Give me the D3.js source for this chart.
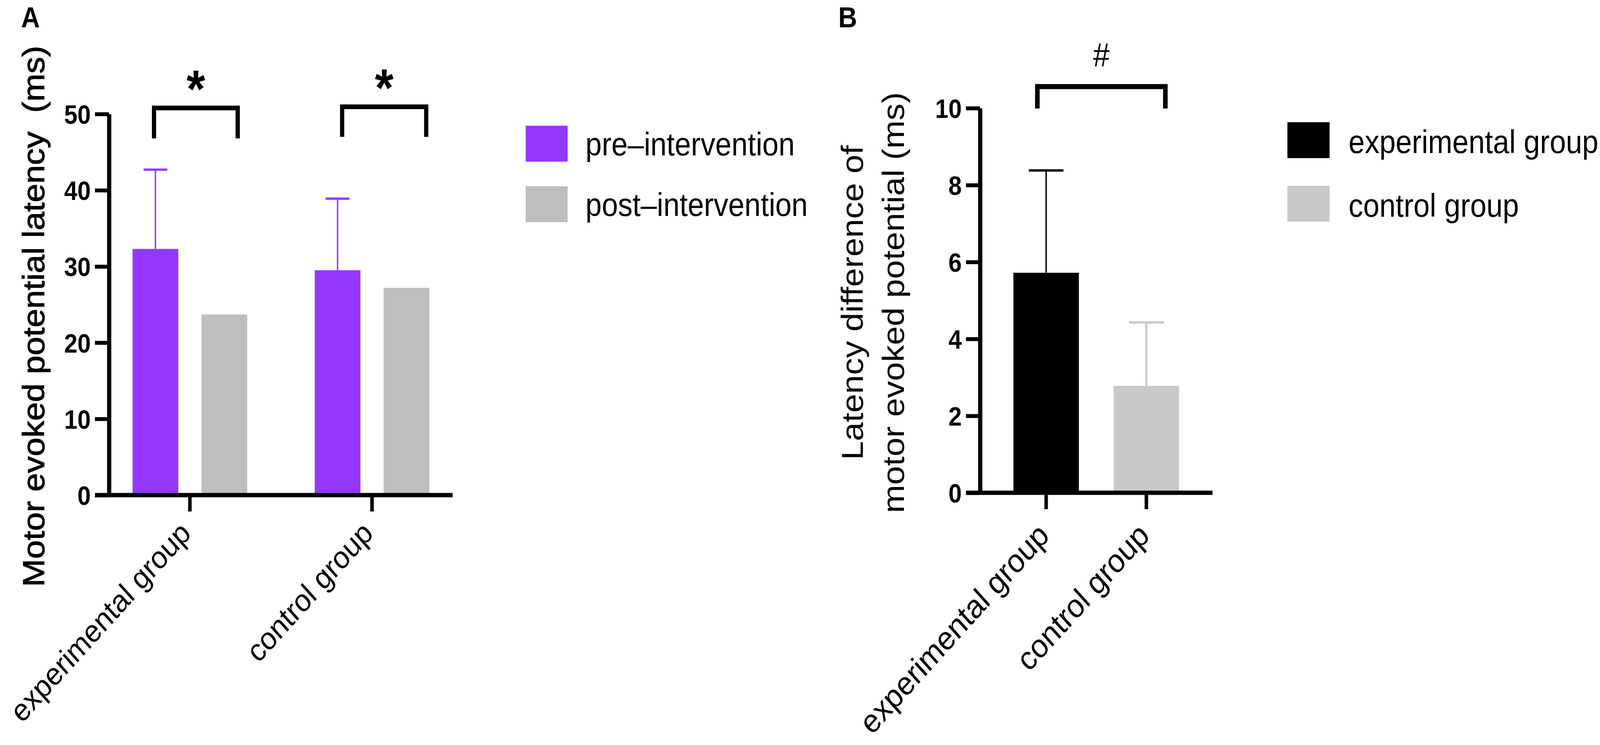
<!DOCTYPE html>
<html><head><meta charset="utf-8">
<script src="https://cdn.jsdelivr.net/npm/d3@7"></script>
<style>
html,body{margin:0;padding:0;background:#fff;overflow:hidden}
svg{display:block}
text{font-family:"Liberation Sans",Arial,Helvetica,sans-serif}
</style>
</head><body>
<svg id="c" xmlns="http://www.w3.org/2000/svg"></svg>
<script>
// ---------- DATA ----------
const groupsA = ["experimental group", "control group"];
const seriesA = ["pre\u2013intervention", "post\u2013intervention"];
const preMeanA = [32.3, 29.5];
const preSdA = [10.4, 9.4];
const postMeanA = [23.7, 27.2];
const ticksA = [0, 10, 20, 30, 40, 50];
const yTitleA = "Motor evoked potential latency\u00A0\u00A0(ms)";

const groupsB = ["experimental group", "control group"];
const meanB = [5.72, 2.78];
const sdB = [2.66, 1.65];
const ticksB = [0, 2, 4, 6, 8, 10];
const yTitleB = ["Latency difference of", "motor evoked potential (ms)"];

const sigA = [
  {group: "experimental group", top: 50.8, bottom: 46.8, label: "*"},
  {group: "control group", top: 50.95, bottom: 47.0, label: "*"}
];
const sigB = {top: 10.56, bottom: 9.99, label: "#"};

// ---------- STYLE ----------
const colA = {"pre\u2013intervention": "#9437FF", "post\u2013intervention": "#BEBEBE"};
const colB = ["#000000", "#C8C8C8"];

const W = 4550, H = 1908;
const vw = window.innerWidth || W, vh = window.innerHeight || H;
const svg = d3.select("#c")
  .attr("width", vw).attr("height", vh)
  .attr("viewBox", `0 0 ${W} ${H}`)
  .attr("preserveAspectRatio", "none");
svg.append("rect").attr("width", W).attr("height", H).attr("fill", "#fff");

function styleAxis(g) {
  g.attr("font-size", null).attr("font-family", null);
  g.select(".domain").attr("stroke", "#000").attr("stroke-width", 12);
  g.selectAll(".tick line").attr("stroke", "#000").attr("stroke-width", 10);
  g.selectAll(".tick text").attr("fill", "#000").attr("font-size", 68).attr("font-weight", "bold").attr("dy", "0.36em");
}

// ================= PANEL A =================
const yA = d3.scaleLinear().domain([0, 50]).range([1268, 292]);
const xA = d3.scaleBand().domain(groupsA).range([281, 1317]);
const xA1 = d3.scaleBand().domain(seriesA).range([-163, 163]).paddingInner(0.337);
const axAx = 310;
const cA = (g, s) => xA(g) + xA.bandwidth() / 2 + xA1(s) + xA1.bandwidth() / 2;

svg.append("text").attr("x", 60).attr("y", 70).attr("font-size", 74).attr("font-weight", "bold").text("A");

// bars
const barsA = [];
groupsA.forEach((g, i) => {
  barsA.push({g, s: seriesA[0], v: preMeanA[i], sd: preSdA[i]});
  barsA.push({g, s: seriesA[1], v: postMeanA[i], sd: null});
});
svg.append("g").selectAll("rect").data(barsA).join("rect")
  .attr("x", d => cA(d.g, d.s) - xA1.bandwidth() / 2)
  .attr("width", xA1.bandwidth())
  .attr("y", d => yA(d.v))
  .attr("height", d => yA(0) - yA(d.v))
  .attr("fill", d => colA[d.s]);

// error bars (upper)
const errA = svg.append("g").attr("stroke", colA[seriesA[0]]).attr("stroke-width", 4);
barsA.filter(d => d.sd != null).forEach(d => {
  const cx = cA(d.g, d.s), cw = xA1.bandwidth() * 0.52;
  errA.append("line").attr("x1", cx).attr("x2", cx).attr("y1", yA(d.v)).attr("y2", yA(d.v + d.sd));
  errA.append("line").attr("x1", cx - cw / 2).attr("x2", cx + cw / 2).attr("y1", yA(d.v + d.sd)).attr("y2", yA(d.v + d.sd)).attr("stroke-width", 6);
});

// y axis
svg.append("g").attr("transform", `translate(${axAx},0)`)
  .call(d3.axisLeft(yA).tickValues(ticksA).tickSize(40).tickSizeOuter(0).tickPadding(12))
  .call(styleAxis);

// x axis
const gxA = svg.append("g").attr("transform", `translate(0,${yA(0)})`)
  .call(d3.axisBottom(xA).tickSize(42).tickSizeOuter(0).tickFormat(""));
gxA.select(".domain").remove();
gxA.selectAll(".tick line").attr("stroke", "#000").attr("stroke-width", 10);
gxA.selectAll(".tick text").remove();
svg.append("line").attr("x1", axAx - 40).attr("x2", 1287).attr("y1", yA(0)).attr("y2", yA(0))
  .attr("stroke", "#000").attr("stroke-width", 11);

// category labels
groupsA.forEach(g => {
  const x = xA(g) + xA.bandwidth() / 2;
  svg.append("text").attr("transform", `translate(${x + 7},${yA(0) + 102}) rotate(-45)`)
    .attr("text-anchor", "end").attr("font-size", 80).text(g);
});

// y title
svg.append("text").attr("transform", `translate(125,810) rotate(-90)`)
  .attr("text-anchor", "middle").attr("font-size", 86)
  .attr("stroke", "#000").attr("stroke-width", 1.5)
  .style("white-space", "pre").text(yTitleA);

// significance brackets
const bdx = [[-4, 38], [13, 56]];
sigA.forEach((b, i) => {
  const x1 = cA(b.group, seriesA[0]) + bdx[i][0];
  const x2 = cA(b.group, seriesA[1]) + bdx[i][1];
  svg.append("path")
    .attr("d", `M${x1},${yA(b.bottom)}V${yA(b.top)}H${x2}V${yA(b.bottom)}`)
    .attr("fill", "none").attr("stroke", "#000").attr("stroke-width", 12).attr("stroke-linejoin", "miter");
  svg.append("text").attr("x", (x1 + x2) / 2).attr("y", yA(b.top) - 2)
    .attr("text-anchor", "middle").attr("font-size", 136).attr("font-weight", "bold").text(b.label);
});

// legend A
seriesA.forEach((s, i) => {
  const y0 = 322 + i * 155;
  svg.append("rect").attr("x", 1495).attr("y", y0).attr("width", 119).attr("height", 92).attr("fill", colA[s]);
  svg.append("text").attr("x", 1665).attr("y", y0 + 76).attr("font-size", 83).text(s);
});

// ================= PANEL B =================
const yB = d3.scaleLinear().domain([0, 10]).range([1262, 277]);
const xB = d3.scaleBand().domain(groupsB).range([2832.5, 3402.5]).paddingInner(0.347).paddingOuter(0.1735);
const axBx = 2787;
const cB = g => xB(g) + xB.bandwidth() / 2;

svg.append("text").attr("x", 2384).attr("y", 70).attr("font-size", 74).attr("font-weight", "bold").text("B");

const barsB = groupsB.map((g, i) => ({g, v: meanB[i], sd: sdB[i], c: colB[i]}));
svg.append("g").selectAll("rect").data(barsB).join("rect")
  .attr("x", d => xB(d.g)).attr("width", xB.bandwidth())
  .attr("y", d => yB(d.v)).attr("height", d => yB(0) - yB(d.v))
  .attr("fill", d => d.c);

barsB.forEach((d, i) => {
  const cx = cB(d.g), cw = xB.bandwidth() * 0.53;
  const sw = i === 0 ? 4 : 6;
  svg.append("line").attr("x1", cx).attr("x2", cx).attr("y1", yB(d.v)).attr("y2", yB(d.v + d.sd))
    .attr("stroke", d.c).attr("stroke-width", sw);
  svg.append("line").attr("x1", cx - cw / 2).attr("x2", cx + cw / 2).attr("y1", yB(d.v + d.sd)).attr("y2", yB(d.v + d.sd))
    .attr("stroke", d.c).attr("stroke-width", 6);
});

svg.append("g").attr("transform", `translate(${axBx},0)`)
  .call(d3.axisLeft(yB).tickValues(ticksB).tickSize(40).tickSizeOuter(0).tickPadding(12))
  .call(styleAxis);

const gxB = svg.append("g").attr("transform", `translate(0,${yB(0)})`)
  .call(d3.axisBottom(xB).tickSize(42).tickSizeOuter(0).tickFormat(""));
gxB.select(".domain").remove();
gxB.selectAll(".tick line").attr("stroke", "#000").attr("stroke-width", 10);
gxB.selectAll(".tick text").remove();
svg.append("line").attr("x1", axBx - 40).attr("x2", 3448).attr("y1", yB(0)).attr("y2", yB(0))
  .attr("stroke", "#000").attr("stroke-width", 11);

groupsB.forEach(g => {
  const x = cB(g);
  svg.append("text").attr("transform", `translate(${x + 13},${yB(0) + 114}) rotate(-45)`)
    .attr("text-anchor", "end").attr("font-size", 84).text(g);
});

yTitleB.forEach((t, i) => {
  svg.append("text").attr("transform", `translate(${2454 + i * 117},775) rotate(-90)`)
    .attr("text-anchor", "middle").attr("font-size", 87).text(t);
});

{
  const x1 = cB(groupsB[0]) - 25, x2 = cB(groupsB[1]) + 54;
  svg.append("path")
    .attr("d", `M${x1},${yB(sigB.bottom)}V${yB(sigB.top)}H${x2}V${yB(sigB.bottom)}`)
    .attr("fill", "none").attr("stroke", "#000").attr("stroke-width", 13);
  svg.append("text").attr("x", (x1 + x2) / 2).attr("y", 170).attr("text-anchor", "middle")
    .attr("font-size", 85).text(sigB.label);
}

groupsB.forEach((g, i) => {
  const y0 = 313 + i * 163;
  svg.append("rect").attr("x", 3661).attr("y", y0).attr("width", 120).attr("height", 92).attr("fill", colB[i]);
  svg.append("text").attr("x", 3835).attr("y", y0 + 79).attr("font-size", 83).text(g);
});
</script>
</body></html>
